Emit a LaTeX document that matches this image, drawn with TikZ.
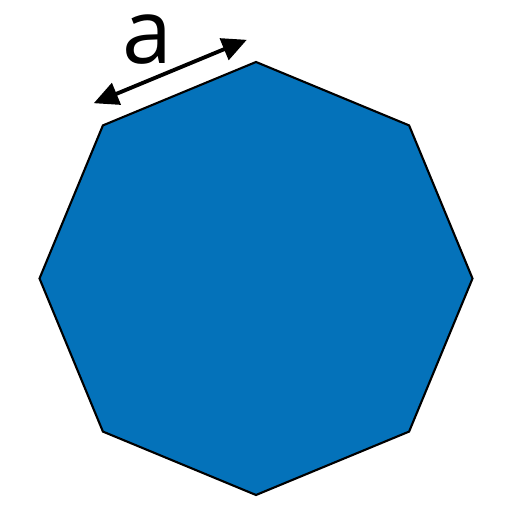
\documentclass[tikz,border=0pt]{standalone}
\usepackage{fontspec}
\setmainfont{Open Sans}
\usetikzlibrary{arrows.meta,calc}
\definecolor{octblue}{RGB}{4,114,186}

\begin{document}
\begin{tikzpicture}[
    octagon/.style={draw=black, line width=0.6pt, fill=octblue, line join=miter},
    dimline/.style={{Triangle[length=7pt, width=6.5pt]}-{Triangle[length=7pt, width=6.5pt]}, line width=1.1pt},
    sidelabel/.style={font=\fontsize{25.5}{30}\selectfont}
  ]
    \useasboundingbox (0,0) rectangle (5.12,5.12);

    % corners of the octagon
    \coordinate (centre) at (2.56,2.335);
    \foreach \k in {0,...,7}
      \coordinate (v\k) at ($(centre)+(45*\k:2.165)$);

    \draw [octagon] (v0) -- (v1) -- (v2) -- (v3) -- (v4) -- (v5) -- (v6) -- (v7) -- cycle;

    % side length
    \coordinate (dimleft) at ($(v3)!0.24cm!90:(v2)$);
    \coordinate (dimright) at ($(v2)!0.24cm!-90:(v3)$);
    \draw [dimline] (dimleft) -- (dimright);
    \node (side) [sidelabel] at (1.47,4.72) {a};
\end{tikzpicture}
\end{document}
